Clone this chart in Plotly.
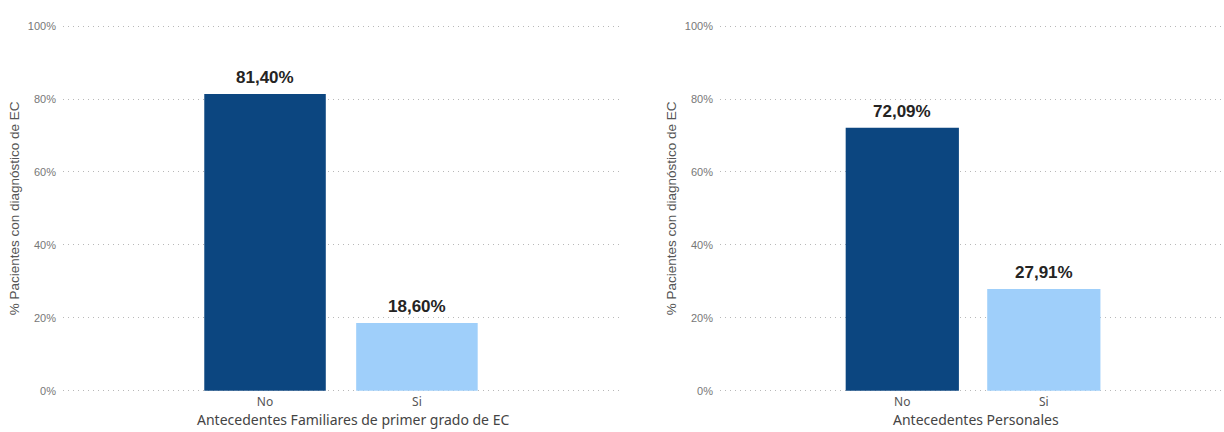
import plotly.graph_objects as go

# Data
categories = ["No", "Si"]
familiares_pct = [81.40, 18.60]
personales_pct = [72.09, 27.91]
y_ticks = [0, 20, 40, 60, 80, 100]
y_tick_labels = [f"{v}%" for v in y_ticks]

title_y = "% Pacientes con diagnóstico de EC"
title_x_left = "Antecedentes Familiares de primer grado de EC"
title_x_right = "Antecedentes Personales"

bar_colors = ["#0C4680", "#9FCFFA"]
W, H = 1224, 432

# pixel geometry of the value axis: 0% at y=394, 100% at y=22.5
PX_PER_UNIT = (394 - 22.5) / 100
PAD = 0.6  # small range padding so the 0% and 100% grid lines are drawn
y_lo, y_hi = -PAD, 100 + PAD
ydom = [(H - (394 + PAD * PX_PER_UNIT)) / H, (H - (22.5 - PAD * PX_PER_UNIT)) / H]

fig = go.Figure()

annotations = []
for vals, xa, ya in [(familiares_pct, "x", "y"), (personales_pct, "x2", "y2")]:
    fig.add_trace(go.Bar(
        x=[0, 1], y=vals, xaxis=xa, yaxis=ya,
        width=0.8,
        marker=dict(color=bar_colors, line=dict(width=0)),
        showlegend=False,
        hoverinfo="skip",
    ))
    for i, v in enumerate(vals):
        annotations.append(dict(
            x=i, y=v, xref=xa, yref=ya,
            text=f"{v:.2f}%".replace(".", ","),
            showarrow=False, xanchor="center", yanchor="bottom", yshift=5,
            font=dict(family="Liberation Sans, Arial", size=17, color="#252423", weight="bold"),
        ))

yaxis_common = dict(
    range=[y_lo, y_hi],
    domain=ydom,
    tickmode="array",
    tickvals=y_ticks,
    ticktext=y_tick_labels,
    showgrid=True,
    gridcolor="#B8B8B8",
    griddash="1px,4px",
    gridwidth=1,
    zeroline=False,
    showline=False,
    ticks="",
    ticklabelstandoff=6,
    tickfont=dict(family="Liberation Sans, Arial", size=11, color="#777777"),
    title=dict(text=title_y, standoff=5,
               font=dict(family="Liberation Sans, Arial", size=13.5, color="#555555")),
)

xaxis_common = dict(
    tickmode="array",
    tickvals=[0, 1],
    ticktext=categories,
    showgrid=False,
    zeroline=False,
    showline=False,
    ticks="",
    tickfont=dict(family="Noto Sans", size=12, color="#555555"),
)

x_title_font = dict(family="Noto Sans", size=14, color="#444444")
annotations += [
    dict(text=title_x_left, x=353 / W, y=(H - 423) / H, xref="paper", yref="paper",
         showarrow=False, xanchor="center", yanchor="middle", font=x_title_font),
    dict(text=title_x_right, x=976 / W, y=(H - 423) / H, xref="paper", yref="paper",
         showarrow=False, xanchor="center", yanchor="middle", font=x_title_font),
]

fig.update_layout(
    width=W, height=H,
    margin=dict(l=0, r=0, t=0, b=0),
    paper_bgcolor="white",
    plot_bgcolor="white",
    xaxis=dict(xaxis_common, domain=[63 / W, 622 / W], range=[-1.33, 2.35], anchor="y"),
    yaxis=dict(yaxis_common, anchor="x"),
    xaxis2=dict(xaxis_common, domain=[720 / W, 1.0], range=[-1.288, 2.273], anchor="y2"),
    yaxis2=dict(yaxis_common, anchor="x2"),
    annotations=annotations,
)

fig.write_html("out.html")
